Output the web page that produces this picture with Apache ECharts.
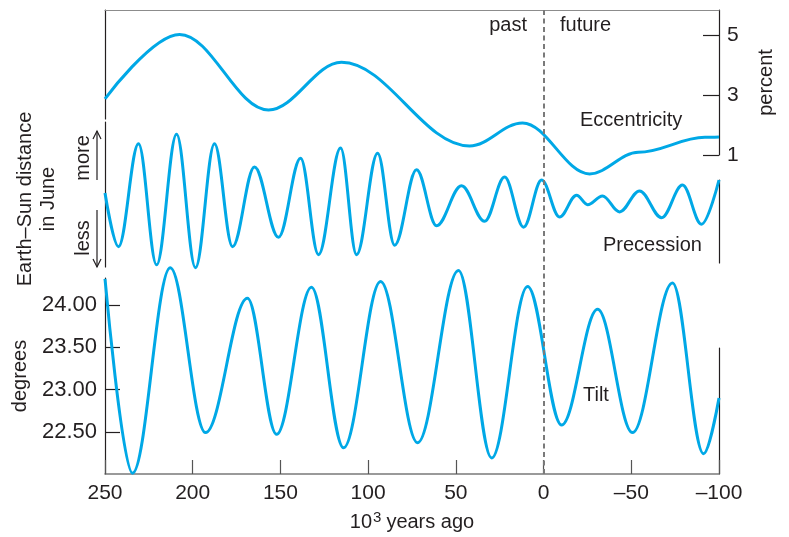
<!DOCTYPE html>
<html>
<head>
<meta charset="utf-8">
<script src="https://cdn.jsdelivr.net/npm/echarts@6/dist/echarts.min.js"></script>
<style>
  html, body { margin: 0; padding: 0; background: #ffffff; }
  #chart { width: 789px; height: 537px; }
</style>
</head>
<body>
<div id="chart"></div>
<script>
// Time runs in thousands of years before present; negative years are the future.
const xTicks = [250, 200, 150, 100, 50, 0, -50, -100];
const PRESENT = 0;

// Orbital eccentricity (percent): turning points plus the shoulder near -55 and the flat end
const eccYears  = [250, 207.5, 156.8, 115.2, 42.2, 12.0, -26.2, -54.0, -92.0, -100];
const eccValues = [2.87, 5.02, 2.50, 4.09, 1.30, 2.07, 0.37, 1.09, 1.59, 1.60];
const eccTicks  = [1, 3, 5];

// Precession: Earth–Sun distance in June, relative index (+1 more, -1 less)
const precYears  = [250, 242.3, 230.9, 220.6, 209.2, 198.4, 187.6, 177.3, 164.8, 151.1, 138.5,
                    128.3, 115.7, 106.6, 94.6, 84.9, 72.4, 61.0, 46.8, 33.6, 22.2, 11.4, 1.1,
                    -9.1, -18.8, -25.1, -33.6, -43.3, -54.7, -67.3, -79.2, -90.0, -100];
const precValues = [0.02, -0.72, 0.70, -0.97, 0.83, -1.01, 0.70, -0.72, 0.38, -0.59, 0.50,
                    -0.83, 0.64, -0.83, 0.57, -0.70, 0.34, -0.43, 0.12, -0.37, 0.24, -0.45, 0.20,
                    -0.31, -0.01, -0.14, -0.02, -0.24, 0.05, -0.32, 0.13, -0.41, 0.20];

// Axial tilt (degrees)
const tiltYears  = [250, 234.3, 212.8, 192.7, 168.8, 152.2, 132.3, 114.0, 92.9, 71.8, 48.5,
                    29.6, 9.1, -10.3, -30.8, -50.7, -73.5, -91.2, -100];
const tiltValues = [24.31, 22.01, 24.44, 22.49, 24.08, 22.47, 24.21, 22.31, 24.28, 22.37, 24.41,
                    22.19, 24.22, 22.58, 23.95, 22.49, 24.26, 22.24, 22.90];
const tiltTicks  = [22.5, 23.0, 23.5, 24.0];

const FONT = 'Liberation Sans';
const INK = '#231f20';
const BLUE = '#00a8e6';
const GRAY = '#7a7a7a';

const pairs = (xs, ys) => xs.map((x, i) => [x, ys[i]]);
const dash = v => (v < 0 ? '\u2013' + (-v) : String(v));

const baseGrid = { left: 105, right: 70, containLabel: false, outerBoundsMode: 'none' };
const grids = [
  Object.assign({ top: 10, bottom: 63 }, baseGrid),   // 0 frame + time axis
  Object.assign({ top: 10, height: 145 }, baseGrid),  // 1 eccentricity
  Object.assign({ top: 10, height: 109 }, baseGrid),  // 2 left edge of eccentricity panel
  Object.assign({ top: 122, height: 145 }, baseGrid), // 3 precession
  Object.assign({ top: 180, height: 83 }, baseGrid),  // 4 right edge of precession panel
  Object.assign({ top: 278, height: 196 }, baseGrid), // 5 tilt
  Object.assign({ top: 348, height: 126 }, baseGrid)  // 6 right edge of tilt panel
];

const hiddenX = g => ({ type: 'value', gridIndex: g, min: -100, max: 250, inverse: true, show: false });
const edgeY = (g, pos) => ({
  type: 'value', gridIndex: g, position: pos, min: 0, max: 1,
  axisLine: { show: true, onZero: false, lineStyle: { color: INK, width: 1.2 } },
  axisTick: { show: false }, axisLabel: { show: false }, splitLine: { show: false }
});
const nameStyle = { fontFamily: FONT, fontSize: 20, color: INK };
// Curves pass through their turning points with level tangents there.
const curve = (xi, yi, xs, ys) => ({
  type: 'line', xAxisIndex: xi, yAxisIndex: yi, data: pairs(xs, ys),
  smooth: 0.36, smoothMonotone: 'x', showSymbol: false, symbol: 'none', clip: false,
  lineStyle: { color: BLUE, width: 3 }, silent: true, z: 3
});

const option = {
  animation: false,
  backgroundColor: '#ffffff',
  textStyle: { fontFamily: FONT },
  grid: grids,
  xAxis: [
    {
      type: 'value', gridIndex: 0, position: 'bottom', min: -100, max: 250, inverse: true,
      axisLine: { show: true, onZero: false, lineStyle: { color: GRAY, width: 1.5 } },
      axisTick: { show: true, inside: true, length: 14, customValues: xTicks, lineStyle: { color: '#555555', width: 1.2 } },
      axisLabel: { show: true, customValues: xTicks, margin: 9, fontSize: 21, color: INK, fontFamily: FONT,
                   showMinLabel: true, showMaxLabel: true, formatter: dash },
      splitLine: { show: false },
      name: '{n|10}{s|3}{n|years ago}', nameLocation: 'middle', nameGap: 36,
      nameTextStyle: {
        fontFamily: FONT, fontSize: 20, color: INK,
        rich: {
          n: { fontFamily: FONT, fontSize: 20, color: INK, lineHeight: 24 },
          s: { fontFamily: FONT, fontSize: 15, color: INK, verticalAlign: 'top', lineHeight: 24, padding: [0, 5, 0, 1] }
        }
      }
    },
    hiddenX(1), hiddenX(2), hiddenX(3), hiddenX(4), hiddenX(5), hiddenX(6),
    {
      type: 'value', gridIndex: 0, position: 'top', min: -100, max: 250, inverse: true,
      axisLine: { show: true, onZero: false, lineStyle: { color: '#8c8c8c', width: 1.2 } },
      axisTick: { show: false }, axisLabel: { show: false }, splitLine: { show: false }
    }
  ],
  yAxis: [
    { type: 'value', gridIndex: 0, min: 0, max: 1, show: false },
    {
      type: 'value', gridIndex: 1, position: 'right', min: 1, max: 5.833,
      axisLine: { show: true, onZero: false, lineStyle: { color: INK, width: 1.2 } },
      axisTick: { show: true, inside: true, length: 16, customValues: eccTicks, lineStyle: { color: INK, width: 1.2 } },
      axisLabel: { show: true, customValues: eccTicks, margin: 8, fontSize: 21, color: INK, fontFamily: FONT },
      splitLine: { show: false },
      name: 'percent', nameLocation: 'middle', nameRotate: 90, nameGap: 37, nameTextStyle: nameStyle
    },
    edgeY(2, 'left'),
    {
      type: 'value', gridIndex: 3, position: 'left', min: -1, max: 1,
      axisLine: { show: true, onZero: false, lineStyle: { color: INK, width: 1.2 } },
      axisTick: { show: false }, axisLabel: { show: false }, splitLine: { show: false },
      name: 'Earth\u2013Sun distance\nin June', nameLocation: 'middle', nameRotate: 90, nameGap: 45,
      nameTextStyle: Object.assign({ lineHeight: 23, align: 'center', padding: [0, 9, 0, 0] }, nameStyle)
    },
    edgeY(4, 'right'),
    {
      type: 'value', gridIndex: 5, position: 'left', min: 22, max: 24.32,
      axisLine: { show: true, onZero: false, lineStyle: { color: INK, width: 1.2 } },
      axisTick: { show: true, inside: true, length: 15, customValues: tiltTicks, lineStyle: { color: INK, width: 1.2 } },
      axisLabel: { show: true, customValues: tiltTicks, margin: 8, fontSize: 22, color: INK, fontFamily: FONT,
                   formatter: v => v.toFixed(2) },
      splitLine: { show: false },
      name: 'degrees', nameLocation: 'middle', nameRotate: 90, nameGap: 75, nameTextStyle: nameStyle
    },
    edgeY(6, 'right')
  ],
  series: [
    {
      // present-day divider between past and future
      type: 'line', xAxisIndex: 0, yAxisIndex: 0, data: [], silent: true, z: 1,
      markLine: {
        silent: true, symbol: ['none', 'none'], label: { show: false },
        lineStyle: { type: [5, 3.5], color: GRAY, width: 2 },
        data: [{ xAxis: PRESENT }]
      }
    },
    curve(1, 1, eccYears, eccValues),
    curve(3, 3, precYears, precValues),
    curve(5, 5, tiltYears, tiltValues)
  ],
  graphic: [
    // arrows beside the precession axis
    { type: 'polyline', shape: { points: [[97, 180], [97, 131]] }, style: { stroke: INK, lineWidth: 1.2, fill: null } },
    { type: 'polyline', shape: { points: [[93, 139], [97, 131], [101, 139]] }, style: { stroke: INK, lineWidth: 1.2, fill: null } },
    { type: 'polyline', shape: { points: [[97, 210], [97, 267]] }, style: { stroke: INK, lineWidth: 1.2, fill: null } },
    { type: 'polyline', shape: { points: [[93, 259], [97, 267], [101, 259]] }, style: { stroke: INK, lineWidth: 1.2, fill: null } },
    { type: 'text', x: 83, y: 158, rotation: Math.PI / 2,
      style: { text: 'more', font: '20px "Liberation Sans"', fill: INK, align: 'center', verticalAlign: 'middle' } },
    { type: 'text', x: 83, y: 238, rotation: Math.PI / 2,
      style: { text: 'less', font: '20px "Liberation Sans"', fill: INK, align: 'center', verticalAlign: 'middle' } },
    { type: 'text', x: 527, y: 25,
      style: { text: 'past', font: '20px "Liberation Sans"', fill: INK, align: 'right', verticalAlign: 'middle' } },
    { type: 'text', x: 560, y: 25,
      style: { text: 'future', font: '20px "Liberation Sans"', fill: INK, align: 'left', verticalAlign: 'middle' } },
    { type: 'text', x: 580, y: 120,
      style: { text: 'Eccentricity', font: '20px "Liberation Sans"', fill: INK, align: 'left', verticalAlign: 'middle' } },
    { type: 'text', x: 603, y: 245,
      style: { text: 'Precession', font: '20px "Liberation Sans"', fill: INK, align: 'left', verticalAlign: 'middle' } },
    { type: 'text', x: 583, y: 395,
      style: { text: 'Tilt', font: '20px "Liberation Sans"', fill: INK, align: 'left', verticalAlign: 'middle' } }
  ]
};

const chart = echarts.init(document.getElementById('chart'), null, { renderer: 'canvas' });
chart.setOption(option);
</script>
</body>
</html>
